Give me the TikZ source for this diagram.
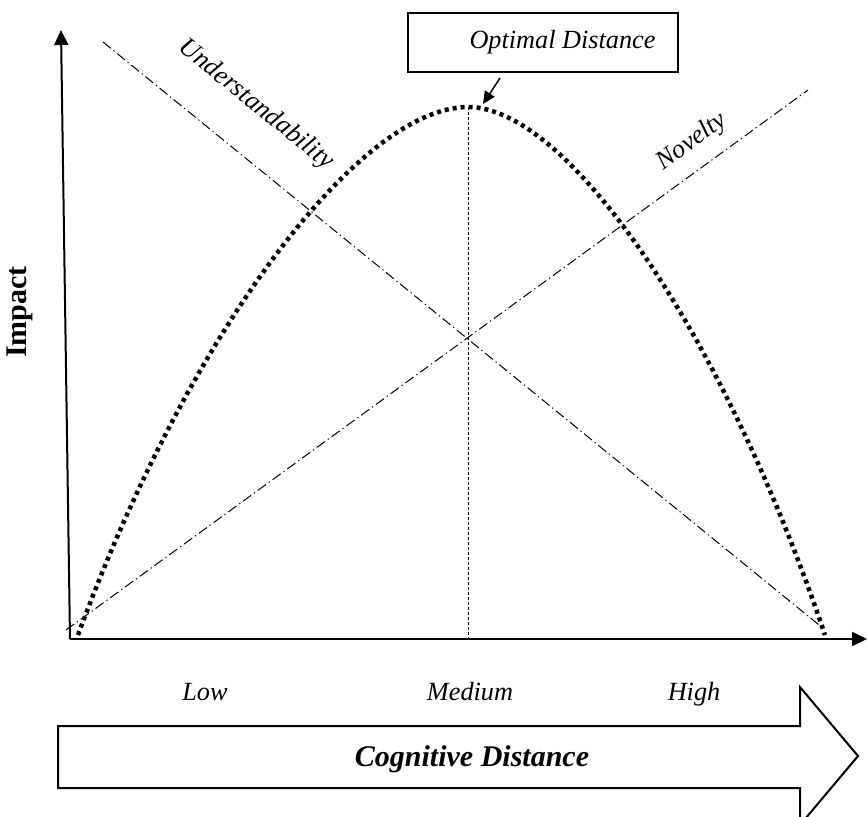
\documentclass[tikz,border=0pt]{standalone}
\usepackage{fontspec}
\setmainfont{Liberation Serif}
\usetikzlibrary{arrows.meta}
\begin{document}
\begin{tikzpicture}[x=0.4pt,y=-0.4pt,>={Triangle[length=6pt,width=5.6pt]},
	axis/.style={line width=0.8pt,->},
	trend/.style={line width=0.4pt,dash pattern=on 4pt off 1.4pt on 0.5pt off 1.4pt},
	impactcurve/.style={line width=1.8pt,dash pattern=on 1.6pt off 1.6pt},
	lbl/.style={font=\fontsize{10.5}{12}\selectfont\itshape}]
	\useasboundingbox (0,0) rectangle (867,816);
	% axes
	\coordinate (origin) at (70,639);
	\coordinate (ytop) at (61,30);
	\coordinate (xend) at (867,639);
	\draw[axis] (origin) -- (ytop);
	\draw[axis] (origin) -- (xend);
	\node[rotate=90,font=\fontsize{12}{14}\selectfont\bfseries] (impact) at (20,312) {Impact};
	% trend lines
	\coordinate (ustart) at (103,42);
	\coordinate (uend) at (824,629);
	\coordinate (nstart) at (66,630);
	\coordinate (nend) at (808,90);
	\draw[trend] (ustart) -- (uend);
	\draw[trend] (nstart) -- (nend);
	\node[lbl,rotate=-39] (under) at (256,105) {Understandability};
	\node[lbl,rotate=36] (novelty) at (692,142) {Novelty};
	% impact curve
	\coordinate (cleft) at (78,635);
	\coordinate (peak) at (468,107);
	\coordinate (cright) at (825,635);
	\draw[impactcurve] (cleft) .. controls (190,330) and (360,107) .. (peak)
		.. controls (567,107) and (722,330) .. (cright);
	\draw[line width=0.4pt,dash pattern=on 1.2pt off 0.8pt] (peak) -- (peak |- origin);
	% optimum
	\node[draw,line width=0.8pt,minimum width=108pt,minimum height=23.6pt,inner sep=0pt,lbl] (optbox) at (543,42.5) {\hspace*{15.6pt}Optimal Distance};
	\coordinate (optfoot) at (500,78);
	\coordinate (opttip) at (483,104);
	\draw[line width=0.6pt,-{Triangle[length=5pt,width=4.6pt]}] (optfoot) -- (opttip);
	% cognitive distance arrow
	\draw[line width=0.8pt] (58,726) -- (800,726) -- (800,687) -- (858,756) -- (800,825) -- (800,788) -- (58,788) -- cycle;
	\node[lbl,anchor=base] (low) at (205,700) {Low};
	\node[lbl,anchor=base] (medium) at (470,700) {Medium};
	\node[lbl,anchor=base] (high) at (694,700) {High};
	\node[font=\fontsize{12}{14}\selectfont\bfseries\itshape] (cogdist) at (472,759) {Cognitive Distance};
\end{tikzpicture}
\end{document}
